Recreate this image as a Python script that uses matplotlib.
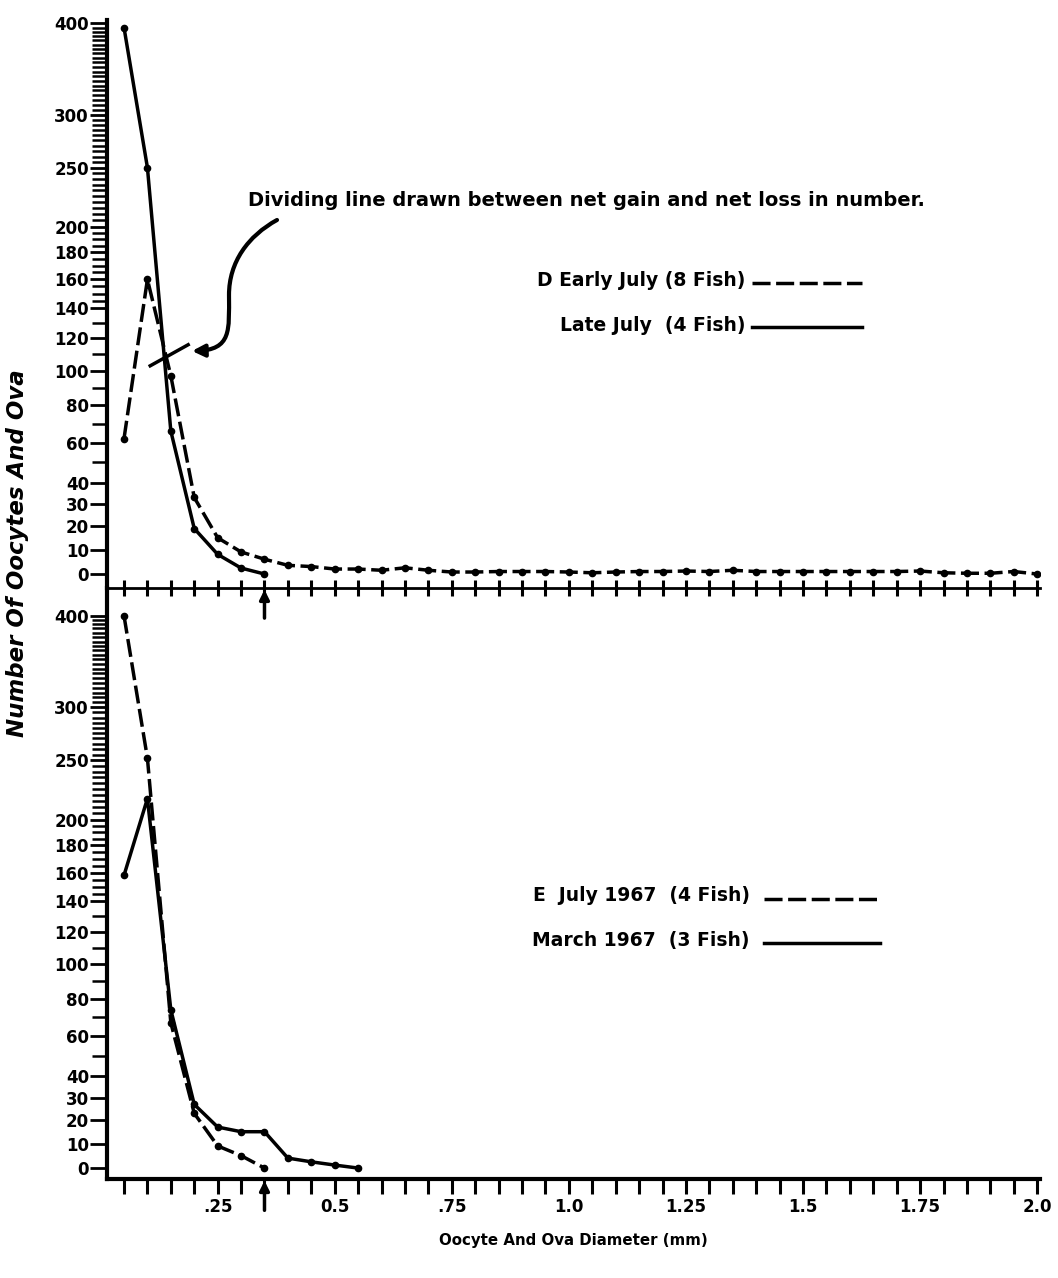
import numpy as np
import matplotlib
matplotlib.use("Agg")
import matplotlib.pyplot as plt
from matplotlib.path import Path
from matplotlib.patches import FancyArrowPatch
from matplotlib.lines import Line2D
from matplotlib.ticker import FixedLocator

plt.rcParams["font.family"] = "DejaVu Sans"
plt.rcParams["font.weight"] = "bold"
plt.rcParams["lines.scale_dashes"] = False

# ---- data ----
diam_d = [0.05, 0.10, 0.15, 0.20, 0.25, 0.30, 0.35, 0.40, 0.45, 0.50,
          0.55, 0.60, 0.65, 0.70, 0.75, 0.80, 0.85, 0.90, 0.95, 1.00,
          1.05, 1.10, 1.15, 1.20, 1.25, 1.30, 1.35, 1.40, 1.45, 1.50,
          1.55, 1.60, 1.65, 1.70, 1.75, 1.80, 1.85, 1.90, 1.95, 2.00]
early_july = [62, 160, 97, 33, 15, 9, 6, 3.5, 3, 2,
              2, 1.5, 2.5, 1.5, 0.8, 0.8, 1, 1, 1, 0.8,
              0.5, 0.8, 1, 1, 1.2, 1, 1.5, 1, 1, 1,
              1, 1, 1, 1, 1.2, 0.5, 0.3, 0.3, 1, 0]

diam_late = [0.05, 0.10, 0.15, 0.20, 0.25, 0.30, 0.35]
late_july = [395, 250, 66, 19, 8, 2.4, 0]

diam_july67 = [0.05, 0.10, 0.15, 0.20, 0.25, 0.30, 0.35]
july_1967 = [400, 252, 67, 23, 9, 5, 0]

diam_march67 = [0.05, 0.10, 0.15, 0.20, 0.25, 0.30, 0.35, 0.40, 0.45, 0.50, 0.55]
march_1967 = [158, 217, 74, 27, 17, 15, 15, 4, 2.5, 1.2, 0]

y_ticks = [0, 10, 20, 30, 40, 60, 80, 100, 120, 140, 160, 180, 200, 250, 300, 400]
x_tick_pos = [0.25, 0.5, 0.75, 1.0, 1.25, 1.5, 1.75, 2.0]
x_tick_labels = [".25", "0.5", ".75", "1.0", "1.25", "1.5", "1.75", "2.0"]
split_diam = 0.35
divider_x = [0.106, 0.187]
divider_y = [103, 116]

# ---- figure ----
W, H = 1058, 1278
fig = plt.figure(figsize=(W / 100, H / 100), dpi=100)


def fwd(v):
    return np.log(np.asarray(v, dtype=float) + 200.0)


def inv(y):
    return np.exp(y) - 200.0


ax1 = fig.add_axes([107 / W, 1 - 588 / H, 933 / W, 568 / H])
ax2 = fig.add_axes([107 / W, 1 - 1179 / H, 933 / W, 591 / H])

minor_y = [v for v in range(50, 140, 20)] + [v for v in range(145, 400, 5) if v not in y_ticks]

for ax in (ax1, ax2):
    ax.set_yscale("function", functions=(fwd, inv))
    ax.set_xlim(0.0137, 2.006)
    for s in ("top", "right"):
        ax.spines[s].set_visible(False)
    ax.spines["left"].set_linewidth(3)
    ax.set_yticks(y_ticks)
    ax.set_yticklabels([str(v) for v in y_ticks])
    ax.yaxis.set_minor_locator(FixedLocator(minor_y))
    ax.tick_params(axis="y", which="major", length=12, width=2, labelsize=12, pad=1)
    ax.tick_params(axis="y", which="minor", length=10.5, width=1.8)
    ax.patch.set_alpha(0)

ax1.set_ylim(-5.5, 404)
ax2.set_ylim(-4.3, 434)

# top panel: plain axis line with crossing ticks
ax1.spines["bottom"].set_linewidth(2)
ax1.set_xticks(diam_d)
ax1.set_xticklabels([])
ax1.tick_params(axis="x", direction="inout", length=11, width=2.2)

# bottom panel
ax2.spines["bottom"].set_linewidth(3)
ax2.set_xticks(x_tick_pos)
ax2.set_xticklabels(x_tick_labels)
ax2.xaxis.set_minor_locator(FixedLocator([d for d in diam_d if d not in x_tick_pos]))
ax2.tick_params(axis="x", which="both", direction="out", length=11, width=2.2,
                labelsize=12, pad=3)

dash = (0, (13, 4))
ax1.plot(diam_d, early_july, color="k", lw=2.5, ls=dash, marker="o", ms=4.5)
ax1.plot(diam_late, late_july, color="k", lw=2.5, marker="o", ms=4.5)
ax1.plot(divider_x, divider_y, color="k", lw=2.5)

ax2.plot(diam_july67, july_1967, color="k", lw=2.5, ls=dash, marker="o", ms=4.5)
ax2.plot(diam_march67, march_1967, color="k", lw=2.5, marker="o", ms=4.5)

# arrows marking the split diameter
for ax in (ax1, ax2):
    ax.annotate("", xy=(split_diam, -0.003), xycoords=ax.get_xaxis_transform(),
                xytext=(split_diam, -0.053), textcoords=ax.get_xaxis_transform(),
                arrowprops=dict(arrowstyle="-|>", lw=2.5, color="k", mutation_scale=14,
                                shrinkA=0, shrinkB=0),
                annotation_clip=False)

# hand-drawn style legends
ax1.text(0.684, 0.5405, "D Early July (8 Fish)", transform=ax1.transAxes,
         ha="right", va="center", fontsize=13.5)
ax1.add_line(Line2D([0.691, 0.809], [0.5365, 0.5365], transform=ax1.transAxes,
                    color="k", lw=2.5, ls=dash))
ax1.text(0.684, 0.463, "Late July  (4 Fish)", transform=ax1.transAxes,
         ha="right", va="center", fontsize=13.5)
ax1.add_line(Line2D([0.691, 0.809], [0.459, 0.459], transform=ax1.transAxes,
                    color="k", lw=2.5))

ax2.text(0.689, 0.479, "E  July 1967  (4 Fish)", transform=ax2.transAxes,
         ha="right", va="center", fontsize=13.5)
ax2.add_line(Line2D([0.704, 0.8285], [0.474, 0.474], transform=ax2.transAxes,
                    color="k", lw=2.5, ls=dash))
ax2.text(0.689, 0.404, "March 1967  (3 Fish)", transform=ax2.transAxes,
         ha="right", va="center", fontsize=13.5)
ax2.add_line(Line2D([0.704, 0.8285], [0.399, 0.399], transform=ax2.transAxes,
                    color="k", lw=2.5))

# annotation with curved arrow
fig.text(248 / W, 1 - 201 / H, "Dividing line drawn between net gain and net loss in number.",
         ha="left", va="center", fontsize=14)


def fp(x, y):
    return (x / W, 1 - y / H)


verts = [fp(277, 220), fp(248, 236), fp(229, 262), fp(229, 295),
         fp(229, 330), fp(232, 350), fp(192, 351)]
codes = [Path.MOVETO, Path.CURVE4, Path.CURVE4, Path.CURVE4,
         Path.CURVE4, Path.CURVE4, Path.CURVE4]
curve = FancyArrowPatch(path=Path(verts, codes), arrowstyle="-|>", mutation_scale=18,
                        lw=3, color="k", transform=fig.transFigure)
fig.add_artist(curve)

fig.text(18 / W, 1 - 553 / H, "Number Of Oocytes And Ova", rotation=90,
         ha="center", va="center", fontsize=16.5, style="italic")
fig.text(573 / W, 1 - 1240 / H, "Oocyte And Ova Diameter (mm)",
         ha="center", va="center", fontsize=10.8)

fig.savefig("out.png", dpi=100)
